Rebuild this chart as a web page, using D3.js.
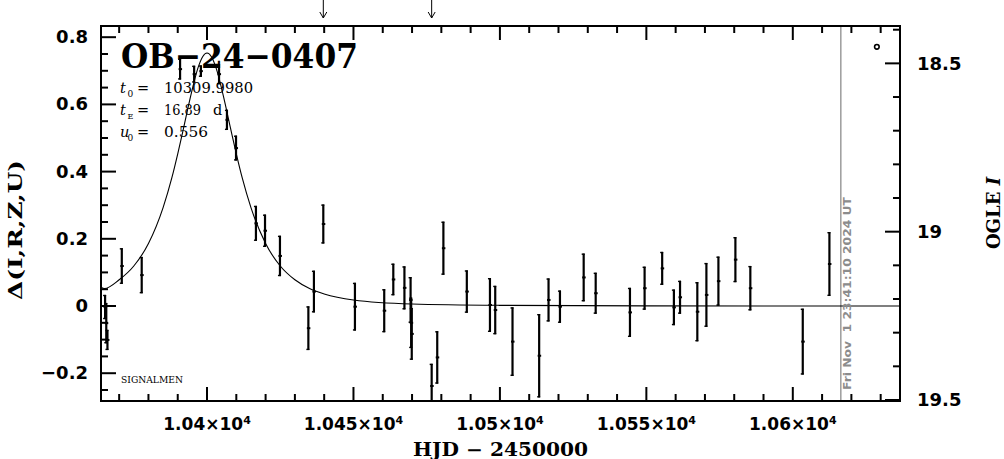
<!DOCTYPE html>
<html><head><meta charset="utf-8">
<script src="https://cdn.jsdelivr.net/npm/d3@7"></script>
<style>body{margin:0;background:#fff}svg{display:block}</style>
</head><body>
<svg id="c" width="1004" height="459"></svg>
<script>
// ---- data ----
const times = [10365.2,10365.6,10366.0,10370.9,10377.7,10390.8,10395.6,10397.9,10404.1,10406.8,10409.9,10416.7,10419.8,10424.9,10434.6,10436.5,10439.7,10450.5,10460.5,10463.6,10467.4,10469.5,10469.7,10469.9,10476.7,10478.6,10480.7,10488.7,10496.6,10498.4,10504.3,10513.4,10516.6,10520.5,10528.6,10532.7,10544.4,10549.4,10555.4,10559.4,10561.5,10567.4,10570.5,10574.6,10580.4,10585.5,10603.4,10612.5];
const delta = [-0.003,-0.051,-0.101,0.119,0.092,0.705,0.690,0.699,0.690,0.554,0.470,0.246,0.224,0.149,-0.066,0.043,0.244,-0.002,-0.014,0.079,0.054,0.018,-0.050,-0.083,-0.238,-0.153,0.172,0.043,0.003,-0.012,-0.106,-0.148,0.018,-0.002,0.085,0.038,-0.019,0.053,0.112,-0.004,0.026,-0.017,0.033,0.074,0.138,0.053,-0.106,0.125];
const errs = [0.036,0.060,0.030,0.053,0.054,0.031,0.025,0.017,0.030,0.030,0.037,0.052,0.048,0.060,0.065,0.062,0.058,0.071,0.064,0.047,0.064,0.068,0.075,0.077,0.066,0.078,0.079,0.063,0.080,0.072,0.102,0.124,0.064,0.048,0.071,0.061,0.073,0.064,0.049,0.053,0.049,0.088,0.095,0.073,0.067,0.066,0.098,0.095];
const curveT = [10363.8,10365,10370,10375,10380,10385,10388,10390,10392,10394,10397,10398.5,10400,10401.5,10403,10406,10408,10410,10412,10415,10420,10425,10430,10435,10440,10450,10470,10500,10550,10636.6];
const curveD = [0.056,0.052,0.078,0.119,0.186,0.293,0.382,0.453,0.530,0.609,0.711,0.742,0.753,0.742,0.711,0.609,0.530,0.453,0.382,0.293,0.186,0.119,0.078,0.052,0.036,0.018,0.006,0.002,0.0003,0];
const ogleT = [10628.7];
const ogleI = [18.451];
const arrowTimes = [10439.7,10476.7];
const nowLineT = 10616.4;
const xTickMajor = [10400,10450,10500,10550,10600];
const xTickLabels = ["1.04","1.045","1.05","1.055","1.06"];
const yTickMajor = [-0.2,0,0.2,0.4,0.6,0.8];
const yTickLabels = ["\u22120.2","0","0.2","0.4","0.6","0.8"];
const iTickMajor = [18.5,19,19.5];
const iTickLabels = ["18.5","19","19.5"];
const title = "OB\u221224\u22120407";
const params = [["t","0","10309.9980",""],["t","E","16.89","d"],["u","0","0.556",""]];
const dateText = "Fri Nov  1 23:41:10 2024 UT";

// ---- layout ----
const L=101, R=900, T=26, B=401;
const svg = d3.select("#c");
svg.append("rect").attr("width",1004).attr("height",459).attr("fill","#fff");
const x = d3.scaleLinear().domain([10363.8,10636.6]).range([L,R]);
const y = d3.scaleLinear().domain([-0.2827,0.8333]).range([B,T]);
const yI = d3.scaleLinear().domain([18.389,19.503]).range([T,B]);

svg.append("defs").append("clipPath").attr("id","clip")
  .append("rect").attr("x",L).attr("y",T).attr("width",R-L).attr("height",B-T);
const g = svg.append("g").attr("clip-path","url(#clip)");

// now line
g.append("line").attr("x1",x(nowLineT)).attr("x2",x(nowLineT)).attr("y1",T).attr("y2",B)
  .attr("stroke","#8c8c8c").attr("stroke-width",1.3);
svg.append("text").attr("transform",`translate(${x(nowLineT)+10},${B-11}) rotate(-90)`)
  .attr("font-family","DejaVu Sans").attr("font-weight","bold").attr("font-size",10)
  .attr("fill","#8c8c8c").attr("textLength",193).attr("lengthAdjust","spacingAndGlyphs")
  .attr("xml:space","preserve").text(dateText);

// model curve
g.append("path").datum(curveT.map((t,i)=>[t,curveD[i]]))
  .attr("d",d3.line().x(d=>x(d[0])).y(d=>y(d[1])).curve(d3.curveMonotoneX))
  .attr("fill","none").attr("stroke","#000").attr("stroke-width",1.1);

// error bars
const pts = times.map((t,i)=>({t,d:delta[i],e:errs[i]}));
const eb = g.selectAll("g.pt").data(pts).enter().append("g");
eb.append("line").attr("x1",d=>x(d.t)).attr("x2",d=>x(d.t))
  .attr("y1",d=>y(d.d+d.e)).attr("y2",d=>y(d.d-d.e)).attr("stroke","#000").attr("stroke-width",2.2);
eb.append("line").attr("x1",d=>x(d.t)-2).attr("x2",d=>x(d.t)+1)
  .attr("y1",d=>y(d.d+d.e)+0.6).attr("y2",d=>y(d.d+d.e)+0.6).attr("stroke","#000").attr("stroke-width",1.4);
eb.append("line").attr("x1",d=>x(d.t)-2).attr("x2",d=>x(d.t)+1)
  .attr("y1",d=>y(d.d-d.e)-0.6).attr("y2",d=>y(d.d-d.e)-0.6).attr("stroke","#000").attr("stroke-width",1.4);
eb.append("rect").attr("x",d=>x(d.t)-1.5).attr("y",d=>y(d.d)-1).attr("width",3.5).attr("height",2).attr("fill","#000");

// OGLE points
g.selectAll("circle.og").data(ogleT).enter().append("circle")
  .attr("cx",d=>x(d)).attr("cy",(d,i)=>yI(ogleI[i])).attr("r",2.3)
  .attr("fill","none").attr("stroke","#000").attr("stroke-width",1.6);

// frame
svg.append("rect").attr("x",L).attr("y",T).attr("width",R-L).attr("height",B-T)
  .attr("fill","none").attr("stroke","#000").attr("stroke-width",2);

// x ticks
const xMinor = d3.range(10370,10636,10);
xMinor.forEach(v=>{
  const maj = xTickMajor.includes(v); const len = maj?14:7;
  svg.append("line").attr("x1",x(v)).attr("x2",x(v)).attr("y1",B).attr("y2",B-len).attr("stroke","#000").attr("stroke-width",2);
  svg.append("line").attr("x1",x(v)).attr("x2",x(v)).attr("y1",T).attr("y2",T+len).attr("stroke","#000").attr("stroke-width",2);
});
xTickMajor.forEach((v,i)=>{
  const t = svg.append("text").attr("x",x(v)).attr("y",430).attr("text-anchor","middle")
    .attr("font-family","DejaVu Sans").attr("font-weight","bold").attr("font-size",17);
  t.append("tspan").text(xTickLabels[i]+"\u00d710");
  t.append("tspan").attr("font-size",11).attr("dy",-6).text("4");
});
// left y ticks
d3.range(-0.25,0.8001,0.05).forEach(v=>{
  const vv = Math.round(v*100)/100;
  const maj = Math.abs(Math.round(vv*5)-vv*5)<1e-6;
  svg.append("line").attr("x1",L).attr("x2",L+(maj?15:7)).attr("y1",y(vv)).attr("y2",y(vv)).attr("stroke","#000").attr("stroke-width",2);
});
yTickMajor.forEach((v,i)=>{
  svg.append("text").attr("x",88).attr("y",y(v)+6).attr("text-anchor","end")
    .attr("font-family","DejaVu Sans").attr("font-weight","bold").attr("font-size",18).text(yTickLabels[i]);
});
// right I ticks
d3.range(18.4,19.501,0.1).forEach(v=>{
  const vv = Math.round(v*10)/10;
  const maj = Math.abs(vv*2-Math.round(vv*2))<1e-6;
  svg.append("line").attr("x1",R).attr("x2",R-(maj?15:7)).attr("y1",yI(vv)).attr("y2",yI(vv)).attr("stroke","#000").attr("stroke-width",2);
});
iTickMajor.forEach((v,i)=>{
  svg.append("text").attr("x",917).attr("y",yI(v)+6.5)
    .attr("font-family","DejaVu Sans").attr("font-weight","bold").attr("font-size",18).text(iTickLabels[i]);
});

// arrows
arrowTimes.forEach(t=>{
  const ax=x(t);
  svg.append("line").attr("x1",ax).attr("x2",ax).attr("y1",0).attr("y2",18).attr("stroke","#000").attr("stroke-width",1);
  svg.append("path").attr("d",`M${ax-3.5},${12} L${ax},${18} L${ax+3.5},${12}`).attr("fill","none").attr("stroke","#000").attr("stroke-width",1);
});

// title
svg.append("text").attr("x",121).attr("y",68).attr("font-family","DejaVu Serif").attr("font-weight","bold")
  .attr("font-size",34).attr("textLength",237).attr("lengthAdjust","spacingAndGlyphs").text(title);
// params
const py=[92.7,115,137.3];
params.forEach((p,i)=>{
  const f = "DejaVu Serif";
  svg.append("text").attr("x",120).attr("y",py[i]).attr("font-family",f).attr("font-style","italic").attr("font-size",14.5).text(p[0]);
  svg.append("text").attr("x",127.5).attr("y",py[i]+4).attr("font-family",f).attr("font-size",p[1]==="E"?8:9).text(p[1]);
  svg.append("text").attr("x",137).attr("y",py[i]).attr("font-family",f).attr("font-size",14.5).text("=");
  const tl = {"10309.9980":89,"16.89":37,"0.556":44}[p[2]];
  svg.append("text").attr("x",164).attr("y",py[i]).attr("font-family",f).attr("font-size",14.5)
    .attr("textLength",tl).attr("lengthAdjust","spacingAndGlyphs").text(p[2]);
  if(p[3]) svg.append("text").attr("x",213).attr("y",py[i]).attr("font-family",f).attr("font-size",14.5).text(p[3]);
});
svg.append("text").attr("x",121).attr("y",383).attr("font-family","DejaVu Serif").attr("font-size",9)
  .attr("textLength",62).attr("lengthAdjust","spacingAndGlyphs").text("SIGNALMEN");

// axis titles
svg.append("text").attr("x",500.5).attr("y",456).attr("text-anchor","middle").attr("font-family","DejaVu Serif")
  .attr("font-weight","bold").attr("font-size",18).attr("textLength",175).attr("lengthAdjust","spacingAndGlyphs")
  .text("HJD \u2212 2450000");
svg.append("text").attr("transform","translate(22,230) rotate(-90)").attr("text-anchor","middle").attr("font-family","DejaVu Serif")
  .attr("font-weight","bold").attr("font-size",18).attr("textLength",140).attr("lengthAdjust","spacingAndGlyphs")
  .text("\u0394(I,R,Z,U)");
const ot = svg.append("text").attr("transform","translate(1000,213) rotate(-90)").attr("text-anchor","middle")
  .attr("font-family","DejaVu Serif").attr("font-weight","bold").attr("font-size",18);
ot.append("tspan").text("OGLE ");
ot.append("tspan").attr("font-style","italic").text("I");
</script>
</body></html>
